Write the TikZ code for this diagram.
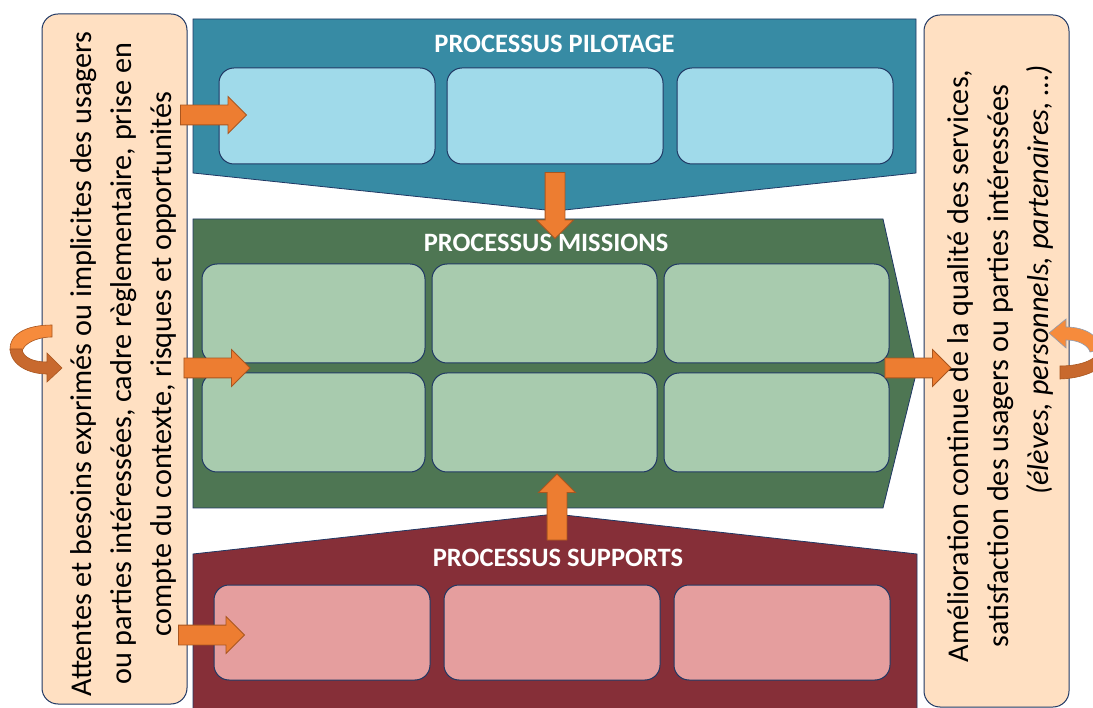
\documentclass[tikz,border=0pt]{standalone}
\usepackage{fontspec}
\setmainfont{Carlito}
\usetikzlibrary{shapes.arrows}
\definecolor{peach}{HTML}{FFE0C2}
\definecolor{navy}{HTML}{203864}
\definecolor{teal}{HTML}{378BA4}
\definecolor{lblue}{HTML}{A0DAEA}
\definecolor{dgreen}{HTML}{4E7653}
\definecolor{lgreen}{HTML}{A8CBAE}
\definecolor{maroon}{HTML}{862F38}
\definecolor{pink}{HTML}{E59E9E}
\definecolor{orng}{HTML}{ED7D31}
\definecolor{orngb}{HTML}{A9561F}
\definecolor{corl}{HTML}{F68B3C}
\definecolor{cord}{HTML}{C8692E}
\tikzset{
  sidebox/.style={draw=navy, line width=1pt, fill=peach, rounded corners=16pt},
  band/.style={draw=navy, line width=0.8pt},
  sub/.style={draw=navy, line width=1pt, rounded corners=15pt},
  ttl/.style={text=white, font=\bfseries\fontsize{26.5}{30}\selectfont, inner sep=0pt},
  blk/.style={single arrow, fill=orng, draw=orngb, line width=0.8pt, inner xsep=0pt, inner ysep=9.5pt,
     single arrow head extend=8.5pt, single arrow tip angle=90, minimum height=66pt},
  sidetxt/.style={font=\fontsize{30.2}{40}\selectfont, align=center, rotate=90, inner sep=0pt},
}
\begin{document}
\begin{tikzpicture}[x=1pt,y=-1pt]
\useasboundingbox (0,0) rectangle (1093,708);
\clip (0,0) rectangle (1093,708);
\fill[white] (0,0) rectangle (1093,708);
% side boxes
\draw[sidebox] (42,14) rectangle (187,704);
\draw[sidebox] (924,15) rectangle (1069,707);
% bands
\draw[band, fill=teal] (193,19) -- (916,19) -- (916,173) -- (555,211) -- (193,173) -- cycle;
\draw[band, fill=dgreen] (193,219) -- (883,219) -- (917,370) -- (883,508) -- (193,508) -- cycle;
\draw[band, fill=maroon] (193,554) -- (555,514) -- (917,554) -- (917,740) -- (193,740) -- cycle;
% sub boxes pilotage
\draw[sub, fill=lblue] (219,68) rectangle (435,164);
\draw[sub, fill=lblue] (447,68) rectangle (663,164);
\draw[sub, fill=lblue] (677,68) rectangle (893,164);
% missions
\draw[sub, fill=lgreen] (202,264) rectangle (425,363);
\draw[sub, fill=lgreen] (432,264) rectangle (657,363);
\draw[sub, fill=lgreen] (664,264) rectangle (889,363);
\draw[sub, fill=lgreen] (202,373) rectangle (425,472);
\draw[sub, fill=lgreen] (432,373) rectangle (657,472);
\draw[sub, fill=lgreen] (664,373) rectangle (889,472);
% supports
\draw[sub, fill=pink] (214,585) rectangle (430,680);
\draw[sub, fill=pink] (444,585) rectangle (660,680);
\draw[sub, fill=pink] (674,585) rectangle (890,680);
% titles
\node[ttl] (tp) at (554.5,44) {PROCESSUS PILOTAGE};
\node[ttl] (tm) at (546,243) {PROCESSUS MISSIONS};
\node[ttl] (ts) at (558,558) {PROCESSUS SUPPORTS};
% side texts
\node[sidetxt] (lt) at (123,364) {Attentes et besoins exprimés ou implicites des usagers\\ou parties intéressées, cadre règlementaire, prise en\\compte du contexte, risques et opportunités};
\node[sidetxt] (rt) at (1000,366) {Amélioration continue de la qualité des services,\\satisfaction des usagers ou parties intéressées\\\hspace*{172pt}\textit{(élèves, personnels, partenaires, …)}};
% block arrows
\node[blk] (a1) at (208.5,115) {};
\node[blk] (a2) at (212,368) {};
\node[blk] (a3) at (206.5,635) {};
\node[blk, rotate=-90] (a4) at (555,200.5) {};
\node[blk, rotate=90] (a5) at (557,512) {};
\node[blk] (a6) at (913,368) {};
% left curved arrow
\draw[fill=corl, draw=orngb, line width=0.6pt] (52,325) .. controls (25,325) and (9,335) .. (10,350) -- (22,352) .. controls (23,344) and (36,337) .. (52,337) -- cycle;
\draw[fill=cord, draw=orngb, line width=0.6pt] (10,349) .. controls (11,366) and (30,374) .. (47,374) -- (47,382) -- (62,368) -- (47,353) -- (47,362) .. controls (34,362) and (23,358) .. (22,349) -- cycle;
% right curved arrow
\draw[fill=cord, draw=orngb, line width=0.6pt] (1100,346) .. controls (1100,360) and (1080,366) .. (1060,366) -- (1060,379) .. controls (1090,378) and (1112,365) .. (1112,346) -- cycle;
\draw[fill=corl, draw=navy!50, line width=0.6pt] (1066,327) -- (1066,319) -- (1049,333) -- (1066,348) -- (1066,340) .. controls (1078,340) and (1088,345) .. (1090,352) -- (1102,350) .. controls (1100,336) and (1085,327) .. (1066,327) -- cycle;
\end{tikzpicture}
\end{document}
